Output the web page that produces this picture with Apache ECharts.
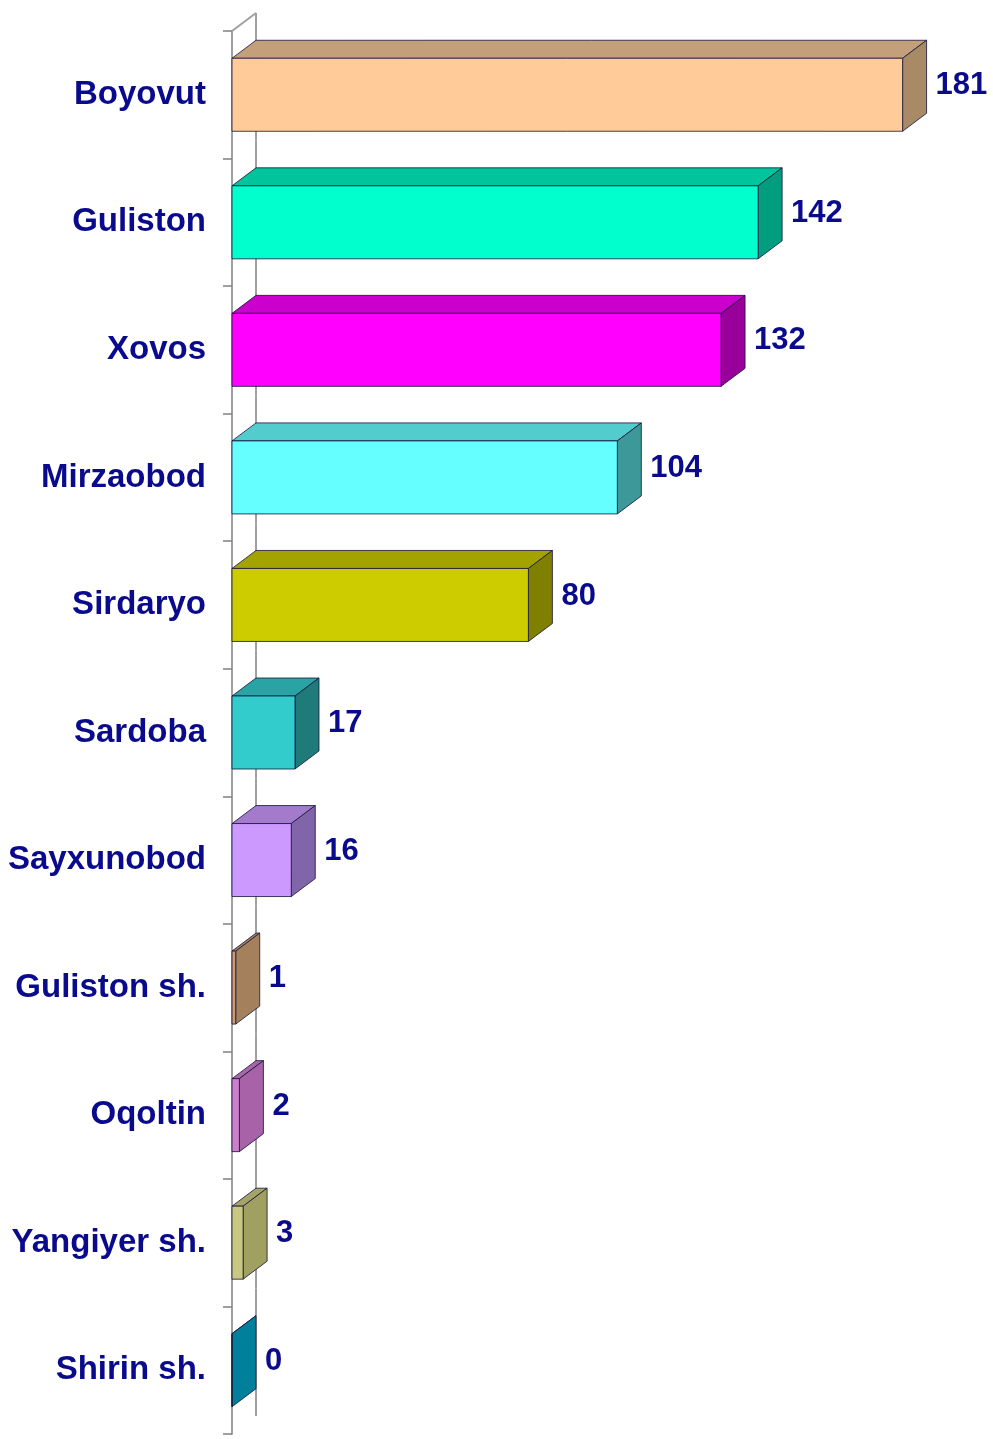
<!DOCTYPE html>
<html>
<head>
<meta charset="utf-8">
<script src="https://cdn.jsdelivr.net/npm/echarts@6/dist/echarts.min.js"></script>
<style>
  html, body { margin: 0; padding: 0; background: #fff; }
  #chart { width: 993px; height: 1439px; }
</style>
</head>
<body>
<div id="chart"></div>
<script>
// districts, top to bottom
const districts = [
  "Boyovut", "Guliston", "Xovos", "Mirzaobod", "Sirdaryo", "Sardoba",
  "Sayxunobod", "Guliston sh.", "Oqoltin", "Yangiyer sh.", "Shirin sh."
];
const counts = [181, 142, 132, 104, 80, 17, 16, 1, 2, 3, 0];

// face colours: front, top, side
const frontColors = ["#FFCC99", "#00FFCC", "#FF00FF", "#66FFFF", "#CCCC00", "#33CCCC", "#CC99FF", "#C89A70", "#CC80CC", "#C8C880", "#00A0C0"];
const topColors = ["#C4A07A", "#00C49C", "#CC00CC", "#52CCCC", "#A3A300", "#29A3A3", "#A37ACC", "#A8825E", "#A866A8", "#A4A466", "#0088A4"];
const sideColors = ["#A88A66", "#009E7E", "#990099", "#3D9999", "#808000", "#1F7A7A", "#8066A8", "#A4805C", "#A862A8", "#A0A060", "#00809A"];

const DX = 24, DY = -18, BAR_H = 73;

const chart = echarts.init(document.getElementById("chart"));

function renderBar(params, api) {
  const i = params.dataIndex;
  const v = api.value(0);
  const cat = api.value(1);
  const start = api.coord([0, cat]);
  const end = api.coord([v, cat]);
  const band = api.size([0, 1])[1];
  const x0 = start[0], x1 = end[0], yc = start[1];
  const yt = yc - BAR_H / 2, yb = yc + BAR_H / 2;
  const edge = "rgba(20,20,60,0.8)";
  const children = [];
  // back wall line
  children.push({
    type: "line",
    shape: { x1: x0 + DX, y1: yc - band / 2 + DY, x2: x0 + DX, y2: yc + band / 2 + DY },
    style: { stroke: "#A0A0A0", lineWidth: 2 }
  });
  if (i === 0) {
    children.push({
      type: "line",
      shape: { x1: x0, y1: yc - band / 2, x2: x0 + DX, y2: yc - band / 2 + DY },
      style: { stroke: "#A0A0A0", lineWidth: 2 }
    });
  }
  children.push({
    type: "polygon",
    shape: { points: [[x0, yt], [x0 + DX, yt + DY], [x1 + DX, yt + DY], [x1, yt]] },
    style: { fill: topColors[i], stroke: edge, lineWidth: 1 }
  });
  children.push({
    type: "polygon",
    shape: { points: [[x1, yt], [x1 + DX, yt + DY], [x1 + DX, yb + DY], [x1, yb]] },
    style: { fill: sideColors[i], stroke: edge, lineWidth: 1 }
  });
  children.push({
    type: "rect",
    shape: { x: x0, y: yt, width: x1 - x0, height: BAR_H },
    style: { fill: frontColors[i], stroke: edge, lineWidth: 1 }
  });
  children.push({
    type: "text",
    style: {
      x: x1 + DX + 9,
      y: yc + DY / 2,
      text: String(v),
      fill: "#0A0A8C",
      font: "bold 31px 'Liberation Sans', Arial, sans-serif",
      verticalAlign: "middle",
      textShadowColor: "rgba(200,140,60,0.5)",
      textShadowOffsetX: 1,
      textShadowOffsetY: 1
    }
  });
  return { type: "group", children: children };
}

const option = {
  animation: false,
  grid: { left: 232, right: 20, top: 31, bottom: 5 },
  xAxis: {
    type: "value",
    min: 0,
    max: 200,
    show: false
  },
  yAxis: {
    type: "category",
    inverse: true,
    data: districts,
    axisLine: { show: true, lineStyle: { color: "#A0A0A0", width: 2 } },
    axisTick: { show: true, inside: false, length: 9, lineStyle: { color: "#808080", width: 1.5 } },
    axisLabel: {
      margin: 26,
      color: "#0A0A8C",
      fontWeight: "bold",
      fontSize: 33,
      fontFamily: "'Liberation Sans', Arial, sans-serif",
      textShadowColor: "rgba(200,140,60,0.5)",
      textShadowOffsetX: 1,
      textShadowOffsetY: 1
    }
  },
  series: [{
    type: "custom",
    renderItem: renderBar,
    encode: { x: 0, y: 1 },
    data: counts.map((v, i) => [v, i])
  }]
};

chart.setOption(option);
</script>
</body>
</html>
